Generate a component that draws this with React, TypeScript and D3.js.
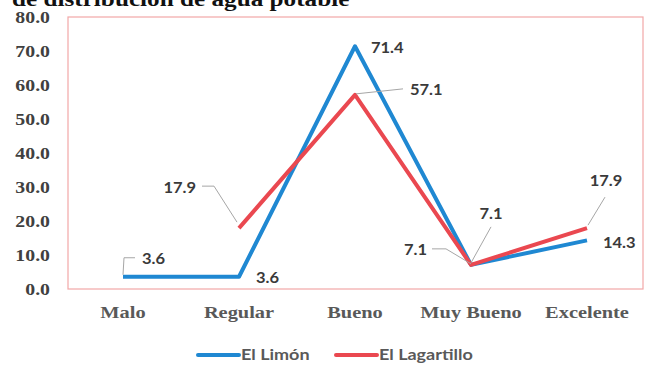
import React from "react";
import * as d3 from "d3";

const categories = ["Malo", "Regular", "Bueno", "Muy Bueno", "Excelente"];
const limonValues: (number | null)[] = [3.6, 3.6, 71.4, 7.1, 14.3];
const lagartilloValues: (number | null)[] = [null, 17.9, 57.1, 7.1, 17.9];
const yTicks = [0, 10, 20, 30, 40, 50, 60, 70, 80];
const seriesNames = ["El Limón", "El Lagartillo"];
const titleText = "de distribución de agua potable";

// label layout (offsets relative to point), not data
type Lab = { dx: number; dy: number; anchor: string; leader?: [number, number][] };
const limonLabels: (Lab | null)[] = [
  { dx: 19, dy: -19, anchor: "start", leader: [[0, -2], [1, -19], [12, -19]] },
  { dx: 17, dy: 0, anchor: "start" },
  { dx: 16, dy: 1, anchor: "start" },
  { dx: -44, dy: -16, anchor: "end", leader: [[0, -1], [-25, -16], [-39, -16]] },
  { dx: 16, dy: 1, anchor: "start" },
];
const lagartilloLabels: (Lab | null)[] = [
  null,
  { dx: -43, dy: -41, anchor: "end", leader: [[-2, -6], [-25, -42], [-37, -42]] },
  { dx: 55, dy: -6, anchor: "start", leader: [[1, -1], [48, -6]] },
  { dx: 20, dy: -52, anchor: "middle", leader: [[0, -2], [20, -38]] },
  { dx: 19, dy: -48, anchor: "middle", leader: [[1, -3], [18, -31]] },
];

const colors = ["#1f88d2", "#ea4850"];

const W = 646, H = 365;
const plotL = 68, plotR = 643, plotT = 17, plotB = 289;

export default function App() {
  const x = d3.scalePoint<string>().domain(categories).range([65, 645]).padding(0.5);
  const y = d3.scaleLinear().domain([0, 80]).range([plotB, plotT]);
  const line = d3
    .line<number | null>()
    .defined((d) => d !== null)
    .x((_, i) => x(categories[i]) as number)
    .y((d) => y(d as number));

  const series = [
    { name: seriesNames[0], values: limonValues, labels: limonLabels, color: colors[0] },
    { name: seriesNames[1], values: lagartilloValues, labels: lagartilloLabels, color: colors[1] },
  ];

  const serif = "'Liberation Serif', 'Times New Roman', serif";
  const sans = "Lato, 'Open Sans', sans-serif";
  const sx = 1.2;

  return (
    <svg width={W} height={H} style={{ position: "absolute", left: 0, top: 0, background: "#fff" }}>
      <text
        transform={`translate(12,6) scale(${sx},1)`}
        fontFamily={serif}
        fontWeight="bold"
        fontSize={21}
        fill="#111"
      >
        {titleText}
      </text>
      <rect x={plotL} y={plotT} width={plotR - plotL} height={plotB - plotT} fill="none" stroke="#f2a7a7" strokeWidth={1.2} />
      {yTicks.map((t) => (
        <text
          key={t}
          transform={`translate(50,${y(t) + 1}) scale(${sx},1)`}
          textAnchor="end"
          dominantBaseline="central"
          fontFamily={serif}
          fontWeight="bold"
          fontSize={16.5}
          fill="#404040"
        >
          {t.toFixed(1)}
        </text>
      ))}
      {categories.map((c) => (
        <text
          key={c}
          transform={`translate(${x(c)},312) scale(${sx},1)`}
          textAnchor="middle"
          dominantBaseline="central"
          fontFamily={serif}
          fontWeight="bold"
          fontSize={17}
          fill="#595959"
        >
          {c}
        </text>
      ))}
      {series.map((s) => (
        <path key={s.name} d={line(s.values) || ""} fill="none" stroke={s.color} strokeWidth={4} strokeLinejoin="round" />
      ))}
      {series.map((s) =>
        s.values.map((v, i) => {
          const lab = s.labels[i];
          if (v === null || !lab) return null;
          const px = x(categories[i]) as number;
          const py = y(v);
          return (
            <g key={s.name + i}>
              {lab.leader && (
                <polyline
                  points={lab.leader.map(([a, b]) => `${px + a},${py + b}`).join(" ")}
                  fill="none"
                  stroke="#a6a6a6"
                  strokeWidth={1}
                />
              )}
              <text
                transform={`translate(${px + lab.dx},${py + lab.dy}) scale(1.1,1)`}
                textAnchor={lab.anchor as any}
                dominantBaseline="central"
                fontFamily={sans}
                fontWeight="bold"
                fontSize={15}
                fill="#3a3a3a"
              >
                {v.toFixed(1)}
              </text>
            </g>
          );
        })
      )}
      {series.map((s, i) => {
        const lx = i === 0 ? 198 : 336;
        return (
          <g key={"leg" + i}>
            <line x1={lx} x2={lx + 41} y1={355} y2={355} stroke={s.color} strokeWidth={4} strokeLinecap="round" />
            <text
              transform={`translate(${lx + 43},355) scale(${sx},1)`}
              dominantBaseline="central"
              fontFamily={sans}
              fontWeight="bold"
              fontSize={15}
              fill="#595959"
            >
              {s.name}
            </text>
          </g>
        );
      })}
    </svg>
  );
}
